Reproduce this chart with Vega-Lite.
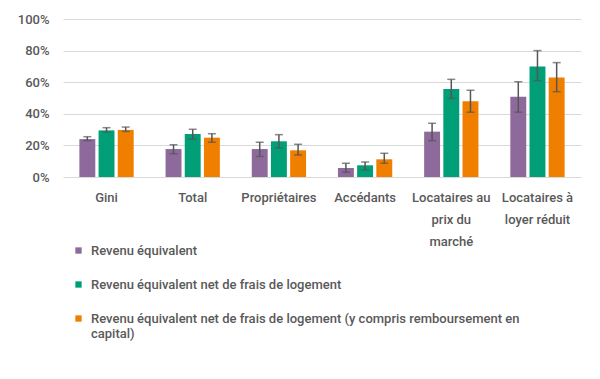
{
  "$schema": "https://vega.github.io/schema/vega-lite/v6.json",
  "width": 518,
  "height": 158,
  "autosize": {"type": "none"},
  "padding": {"left": 63, "top": 19, "right": 19, "bottom": 202},
  "background": "white",
  "config": {
    "view": {"stroke": null},
    "font": "Roboto",
    "axisY": {
      "labelOverlap": false,
      "tickCount": 10,
      "domain": false,
      "ticks": false,
      "labelPadding": 14,
      "labelFontSize": 13,
      "labelFontWeight": 500,
      "labelColor": "#595959",
      "gridColor": "#d9d9d9",
      "gridWidth": 1,
      "format": ".0%"
    }
  },
  "data": {
    "values": [
      {"cat": "Gini", "series": "Revenu équivalent", "v": 0.24, "lo": 0.23, "hi": 0.255},
      {"cat": "Gini", "series": "Revenu équivalent net de frais de logement", "v": 0.295, "lo": 0.284, "hi": 0.312},
      {"cat": "Gini", "series": "Revenu équivalent net de frais de logement (y compris remboursement en capital)", "v": 0.298, "lo": 0.288, "hi": 0.316},
      {"cat": "Total", "series": "Revenu équivalent", "v": 0.177, "lo": 0.147, "hi": 0.204},
      {"cat": "Total", "series": "Revenu équivalent net de frais de logement", "v": 0.272, "lo": 0.24, "hi": 0.302},
      {"cat": "Total", "series": "Revenu équivalent net de frais de logement (y compris remboursement en capital)", "v": 0.249, "lo": 0.22, "hi": 0.274},
      {"cat": "Propriétaires", "series": "Revenu équivalent", "v": 0.177, "lo": 0.13, "hi": 0.22},
      {"cat": "Propriétaires", "series": "Revenu équivalent net de frais de logement", "v": 0.226, "lo": 0.184, "hi": 0.268},
      {"cat": "Propriétaires", "series": "Revenu équivalent net de frais de logement (y compris remboursement en capital)", "v": 0.169, "lo": 0.139, "hi": 0.207},
      {"cat": "Accédants", "series": "Revenu équivalent", "v": 0.057, "lo": 0.03, "hi": 0.087},
      {"cat": "Accédants", "series": "Revenu équivalent net de frais de logement", "v": 0.074, "lo": 0.044, "hi": 0.095},
      {"cat": "Accédants", "series": "Revenu équivalent net de frais de logement (y compris remboursement en capital)", "v": 0.112, "lo": 0.087, "hi": 0.15},
      {"cat": "Locataires au prix du marché", "series": "Revenu équivalent", "v": 0.287, "lo": 0.23, "hi": 0.34},
      {"cat": "Locataires au prix du marché", "series": "Revenu équivalent net de frais de logement", "v": 0.557, "lo": 0.498, "hi": 0.618},
      {"cat": "Locataires au prix du marché", "series": "Revenu équivalent net de frais de logement (y compris remboursement en capital)", "v": 0.479, "lo": 0.41, "hi": 0.549},
      {"cat": "Locataires à loyer réduit", "series": "Revenu équivalent", "v": 0.508, "lo": 0.41, "hi": 0.603},
      {"cat": "Locataires à loyer réduit", "series": "Revenu équivalent net de frais de logement", "v": 0.70, "lo": 0.61, "hi": 0.80},
      {"cat": "Locataires à loyer réduit", "series": "Revenu équivalent net de frais de logement (y compris remboursement en capital)", "v": 0.629, "lo": 0.54, "hi": 0.724}
    ]
  },
  "encoding": {
    "x": {
      "field": "cat",
      "type": "nominal",
      "sort": null,
      "scale": {"paddingInner": 0.37, "paddingOuter": 0.19},
      "axis": {
        "title": null,
        "labelAngle": 0,
        "domain": false,
        "ticks": false,
        "labelPadding": 14,
        "labelFontSize": 13,
        "labelFontWeight": 500,
        "labelColor": "#595959",
        "labelLineHeight": 22,
        "labelOverlap": false,
        "labelExpr": "datum.label == 'Locataires au prix du marché' ? ['Locataires au', 'prix du', 'marché'] : datum.label == 'Locataires à loyer réduit' ? ['Locataires à', 'loyer réduit'] : datum.label"
      }
    },
    "xOffset": {
      "field": "series",
      "type": "nominal",
      "sort": null,
      "scale": {"paddingInner": 0.17}
    }
  },
  "layer": [
    {
      "mark": {"type": "bar"},
      "encoding": {
        "y": {
          "field": "v",
          "type": "quantitative",
          "scale": {"domain": [0, 1]},
          "axis": {"title": null, "values": [0, 0.2, 0.4, 0.6, 0.8, 1], "tickCount": 10}
        },
        "color": {
          "field": "series",
          "type": "nominal",
          "sort": null,
          "scale": {
            "domain": [
              "Revenu équivalent",
              "Revenu équivalent net de frais de logement",
              "Revenu équivalent net de frais de logement (y compris remboursement en capital)"
            ],
            "range": ["#8E6A9C", "#009F77", "#F07F00"]
          },
          "legend": {
            "title": null,
            "orient": "none",
            "legendX": 9,
            "legendY": 225,
            "direction": "vertical",
            "symbolType": "square",
            "symbolSize": 40,
            "symbolStrokeWidth": 0,
            "labelFontSize": 13,
            "labelFontWeight": 500,
            "labelColor": "#595959",
            "labelLimit": 500,
            "labelLineHeight": 21,
            "rowPadding": 20,
            "labelOffset": 6,
            "labelExpr": "datum.label == 'Revenu équivalent net de frais de logement (y compris remboursement en capital)' ? ['Revenu équivalent net de frais de logement (y compris remboursement en', 'capital)'] : datum.label"
          }
        }
      }
    },
    {
      "mark": {"type": "rule", "color": "#555555", "strokeWidth": 1.5},
      "encoding": {
        "y": {"field": "lo", "type": "quantitative", "axis": {"title": null, "values": [0, 0.2, 0.4, 0.6, 0.8, 1], "tickCount": 10}},
        "y2": {"field": "hi"}
      }
    },
    {
      "mark": {"type": "tick", "color": "#555555", "thickness": 1.5, "size": 8, "orient": "horizontal"},
      "encoding": {
        "y": {"field": "lo", "type": "quantitative", "axis": {"title": null, "values": [0, 0.2, 0.4, 0.6, 0.8, 1], "tickCount": 10}}
      }
    },
    {
      "mark": {"type": "tick", "color": "#555555", "thickness": 1.5, "size": 8, "orient": "horizontal"},
      "encoding": {
        "y": {"field": "hi", "type": "quantitative", "axis": {"title": null, "values": [0, 0.2, 0.4, 0.6, 0.8, 1], "tickCount": 10}}
      }
    }
  ]
}
